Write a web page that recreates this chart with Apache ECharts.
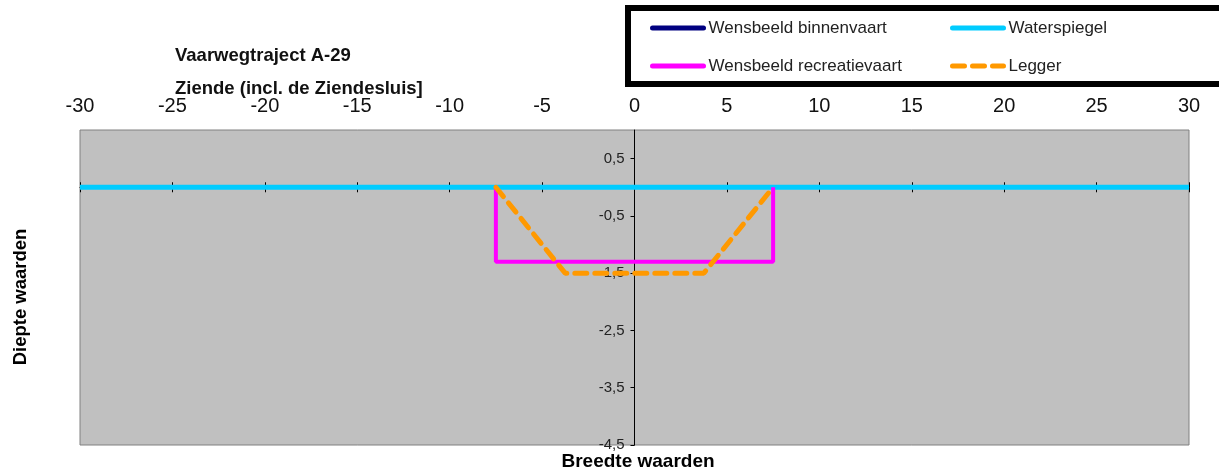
<!DOCTYPE html>
<html><head><meta charset="utf-8">
<script src="https://cdn.jsdelivr.net/npm/echarts@6/dist/echarts.min.js"></script>
<style>html,body{margin:0;padding:0;background:#fff}#c{width:1219px;height:473px}</style>
</head><body><div id="c"></div>
<script>
const xTicks = {min: -30, max: 30, interval: 5};
const yTicks = {min: -4.5, max: 1, interval: 1};
const seriesNames = ['Wensbeeld binnenvaart', 'Waterspiegel', 'Wensbeeld recreatievaart', 'Legger'];
const binnenvaart = [];
const waterspiegel = [[-30, 0], [30, 0]];
const recreatievaart = [[-7.5, 0], [-7.5, -1.3], [7.5, -1.3], [7.5, 0]];
const legger = [[-7.5, 0], [-3.75, -1.5], [3.75, -1.5], [7.5, 0]];
const titleLines = ['Vaarwegtraject A-29', 'Ziende (incl. de Ziendesluis]'];

const font = '"Liberation Sans", Arial, sans-serif';
const W = 1219, H = 473;
const grid = {left: 80, right: 30, top: 130, bottom: 28};
const plotW = W - grid.left - grid.right;
const plotH = H - grid.top - grid.bottom;
// pixel offsets that place the axes on the zero lines of the other axis
const yAxisOffset = -plotW * (0 - xTicks.min) / (xTicks.max - xTicks.min);
const xAxisOffset = -plotH * (0 - yTicks.min) / (yTicks.max - yTicks.min);

const chart = echarts.init(document.getElementById('c'));
const legendText = {fontFamily: font, fontSize: 17, color: '#222', lineHeight: 18};
const legendCommon = {orient: 'vertical', top: 19, padding: 0, itemWidth: 51, itemHeight: 18, itemGap: 20,
  textStyle: legendText, itemStyle: {opacity: 0}, lineStyle: {width: 5, cap: 'round'}, z: 5};
chart.setOption({
  animation: false,
  grid: Object.assign({show: true, backgroundColor: '#c0c0c0', borderColor: '#808080', borderWidth: 1}, grid),
  graphic: [
    {type: 'rect', shape: {x: 628, y: 8, width: 700, height: 76}, style: {fill: '#fff', stroke: '#000', lineWidth: 6}, z: 0},
    {type: 'text', x: 175, y: 55.5, style: {text: titleLines[0], font: 'bold 18.5px ' + font, fill: '#111', verticalAlign: 'middle'}},
    {type: 'text', x: 175, y: 88.5, style: {text: titleLines[1], font: 'bold 18.5px ' + font, fill: '#111', verticalAlign: 'middle'}},
    {type: 'text', x: 21, y: 297, rotation: Math.PI / 2, style: {text: 'Diepte waarden', font: 'bold 18.5px ' + font, fill: '#000', align: 'center', verticalAlign: 'middle'}},
    {type: 'text', x: 638, y: 462, style: {text: 'Breedte waarden', font: 'bold 19px ' + font, fill: '#000', align: 'center', verticalAlign: 'middle'}}
  ],
  legend: [
    Object.assign({data: [seriesNames[0], seriesNames[2]], left: 650}, legendCommon),
    Object.assign({data: [seriesNames[1], seriesNames[3]], left: 950}, legendCommon)
  ],
  xAxis: [
    {type: 'value', position: 'top', min: xTicks.min, max: xTicks.max, interval: xTicks.interval,
     axisLine: {show: false}, axisTick: {show: false}, splitLine: {show: false},
     axisLabel: {fontFamily: font, fontSize: 20, color: '#111', margin: 14}},
    {type: 'value', position: 'bottom', offset: xAxisOffset, min: xTicks.min, max: xTicks.max, interval: xTicks.interval,
     axisLine: {show: true, onZero: false, lineStyle: {color: '#000', width: 1}},
     axisTick: {show: true, length: 5, lineStyle: {color: '#000'}}, axisLabel: {show: false}, splitLine: {show: false}},
    {type: 'value', position: 'bottom', offset: xAxisOffset, min: xTicks.min, max: xTicks.max, interval: xTicks.interval,
     axisLine: {show: false, onZero: false},
     axisTick: {show: true, inside: true, length: 5, lineStyle: {color: '#000'}}, axisLabel: {show: false}, splitLine: {show: false}}
  ],
  yAxis: {type: 'value', position: 'left', offset: yAxisOffset, min: yTicks.min, max: yTicks.max, interval: yTicks.interval,
    axisLine: {show: true, onZero: false, lineStyle: {color: '#000', width: 1}},
    axisTick: {show: true, length: 4, lineStyle: {color: '#000'}},
    splitLine: {show: false},
    axisLabel: {fontFamily: font, fontSize: 15, color: '#222', showMaxLabel: false, margin: 10,
      formatter: v => String(v).replace('.', ',')}},
  series: [
    {name: seriesNames[0], type: 'line', data: binnenvaart, symbol: 'none', lineStyle: {color: '#000080', width: 5}, itemStyle: {color: '#000080'}},
    {name: seriesNames[1], type: 'line', data: waterspiegel, symbol: 'none', lineStyle: {color: '#00ccff', width: 5}, itemStyle: {color: '#00ccff'}, z: 3},
    {name: seriesNames[2], type: 'line', data: recreatievaart, symbol: 'none', lineStyle: {color: '#ff00ff', width: 4}, itemStyle: {color: '#ff00ff'}, z: 4},
    {name: seriesNames[3], type: 'line', data: legger, symbol: 'none', lineStyle: {color: '#ff9900', width: 5, type: [12, 8], cap: 'round'}, itemStyle: {color: '#ff9900'}, z: 5}
  ]
});
</script></body></html>
